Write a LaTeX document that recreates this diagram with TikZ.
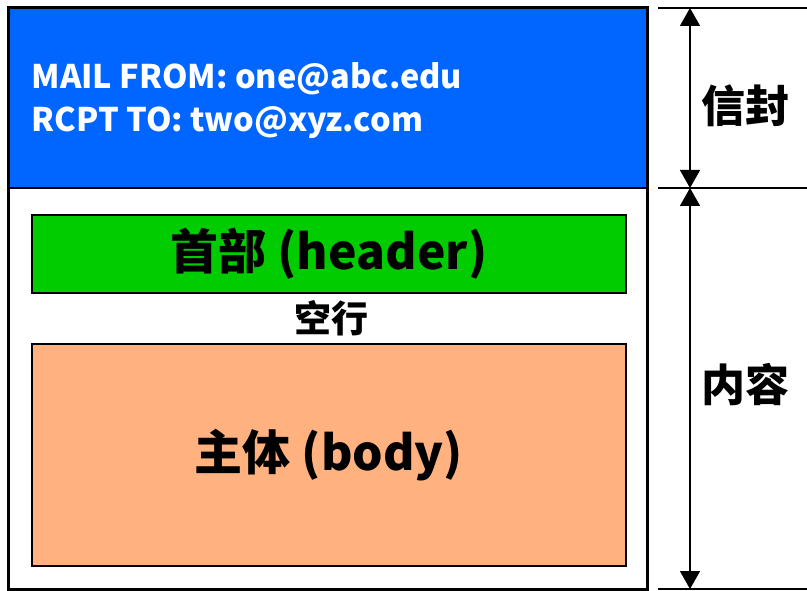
\documentclass[tikz,border=0pt]{standalone}
\usepackage{fontspec}
\setmainfont{Noto Sans CJK SC}
\usetikzlibrary{arrows.meta,positioning}
\definecolor{envblue}{HTML}{0066FF}
\definecolor{hdrgreen}{HTML}{00CC00}
\definecolor{bodyorange}{HTML}{FFB27F}
\begin{document}
\begin{tikzpicture}[x=1pt,y=-1pt,
  part/.style={draw,line width=1.5pt,minimum width=638pt,inner sep=0pt},
  inner/.style={draw,line width=1.2pt,minimum width=594pt,inner sep=0pt,font=\fontsize{48}{54}\selectfont\bfseries},
  side/.style={font=\fontsize{44}{50}\selectfont\bfseries},
  dim/.style={{Triangle[length=18pt,width=20pt]}-{Triangle[length=18pt,width=20pt]},line width=1.5pt}]
\useasboundingbox (0,0) rectangle (807,591);
\node[part,fill=envblue,minimum height=180pt] (env) at (328,98) {};
\node[part,fill=white,minimum height=401pt] (cont) at (328,388.5) {};
\draw[line width=3pt] (env.north west) rectangle (cont.south east);
\node[anchor=west,align=left,text=white,font=\fontsize{32.5}{43}\selectfont\bfseries] (addr) at (28,101)
  {MAIL FROM: one@abc.edu\\RCPT TO: two@xyz.com};
\node[inner,fill=hdrgreen,minimum height=78pt] (hdr) at (329,254) {首部 (header)};
\node[font=\fontsize{37}{40}\selectfont\bfseries] (gap) at (331,318) {空行};
\node[inner,fill=bodyorange,minimum height=222pt] (body) at (329,455) {主体 (body)};
% dimension lines on the right
\coordinate (t0) at (658,8);
\coordinate (t1) at (658,188);
\coordinate (t2) at (658,589);
\draw[line width=1.5pt] (t0) -- ++(149,0);
\draw[line width=1.5pt] (t1) -- ++(149,0);
\draw[line width=1.5pt] (t2) -- ++(149,0);
\draw[dim] ([xshift=32pt]t0) -- ([xshift=32pt]t1);
\draw[dim] ([xshift=32pt]t1) -- ([xshift=32pt]t2);
\node[side] (lenv) at (745,106) {信封};
\node[side] (lcont) at (745,385) {内容};
\end{tikzpicture}
\end{document}
